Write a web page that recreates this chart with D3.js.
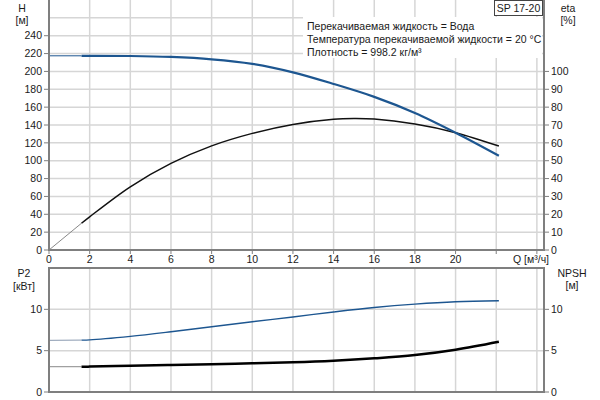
<!DOCTYPE html>
<html><head><meta charset="utf-8">
<script src="https://cdn.jsdelivr.net/npm/d3@7"></script>
<style>
body{margin:0;background:#fff;}
svg{display:block;font-family:"Liberation Sans",Arial,sans-serif;font-size:10.5px;}
</style></head>
<body><svg id="c" width="600" height="400"></svg>
<script>
// ---- data ----
const qH = [0, 1.6, 2, 4, 6, 8, 10, 12, 14, 16, 18, 20, 22.13];
const headH = [217.5, 217.5, 217.5, 217.3, 216.2, 213.6, 208.5, 199, 186, 171.5, 153.5, 131.4, 105.6];
const qEta = [0, 1.6, 2, 4, 6, 8, 10, 12, 14, 15, 16, 18, 20, 22.13];
const etaV = [0, 15, 18.6, 35.4, 48.5, 58.3, 65.3, 70.3, 73.2, 73.6, 73.3, 70.5, 65.7, 58.2];
const qP = [0, 1.6, 2, 4, 6, 8, 10, 12, 14, 16, 18, 20, 22.13];
const p2V = [6.25, 6.28, 6.3, 6.73, 7.29, 7.9, 8.5, 9.08, 9.68, 10.22, 10.63, 10.92, 11.04];
const npshV = [3.06, 3.06, 3.07, 3.18, 3.27, 3.37, 3.47, 3.59, 3.78, 4.07, 4.47, 5.12, 6.08];
const qTicks = [0, 2, 4, 6, 8, 10, 12, 14, 16, 18, 20];
const qGrid = [2, 4, 6, 8, 10, 12, 14, 16, 18, 20, 22, 24];
const hTicks = [0, 20, 40, 60, 80, 100, 120, 140, 160, 180, 200, 220, 240];
const hGrid = [20, 40, 60, 80, 100, 120, 140, 160, 180, 200, 220, 240, 260];
const etaTicks = [0, 10, 20, 30, 40, 50, 60, 70, 80, 90, 100];
const pTicks = [0, 5, 10];
const infoLines = ["Перекачиваемая жидкость = Вода", "Температура перекачиваемой жидкости = 20 °C", "Плотность = 998.2 кг/м³"];
const title = "SP 17-20";
const qStart = 1.6;

const svg = d3.select("#c");
const L = 49, R = 544;
const x = d3.scaleLinear().domain([0, 24.35]).range([L, R]);
const yH = d3.scaleLinear().domain([0, 280]).range([250, 0]);
const yE = d3.scaleLinear().domain([0, 140]).range([250, 0]);
const yP = d3.scaleLinear().domain([0, 15]).range([392, 268]);

const gridC = "#d6d6d6", axC = "#7f7f7f", txt = "#1a1a1a";
const blue = "#1d5690";

// grids
const g = svg.append("g");
g.selectAll(".vg1").data(qGrid).join("line")
  .attr("x1", d => x(d)).attr("x2", d => x(d)).attr("y1", 0).attr("y2", 250)
  .attr("stroke", gridC).attr("stroke-width", 1.5);
g.selectAll(".hg1").data(hGrid).join("line")
  .attr("x1", L).attr("x2", R).attr("y1", d => yH(d)).attr("y2", d => yH(d))
  .attr("stroke", gridC).attr("stroke-width", 1.5);
g.selectAll(".vg2").data(qGrid).join("line")
  .attr("x1", d => x(d)).attr("x2", d => x(d)).attr("y1", 268).attr("y2", 392)
  .attr("stroke", gridC).attr("stroke-width", 1.5);
g.selectAll(".hg2").data([5, 10]).join("line")
  .attr("x1", L).attr("x2", R).attr("y1", d => yP(d)).attr("y2", d => yP(d))
  .attr("stroke", gridC).attr("stroke-width", 1.5);

// info box
const info = svg.append("g");
info.append("rect").attr("x", 303).attr("y", 17).attr("width", 239).attr("height", 41).attr("fill", "#fff");
info.selectAll("text").data(infoLines).join("text")
  .attr("x", 307).attr("y", (d, i) => 29.5 + i * 13).attr("fill", txt).text(d => d);

// curves
function drawCurve(qs, vs, ys, thinColor, color, w) {
  const line = d3.line().x(d => x(d[0])).y(d => ys(d[1])).curve(d3.curveCatmullRom.alpha(0.5));
  const pts = qs.map((q, i) => [q, vs[i]]);
  const thin = pts.filter(p => p[0] <= qStart);
  const thick = pts.filter(p => p[0] >= qStart);
  svg.append("path").attr("d", line(thin)).attr("fill", "none").attr("stroke", thinColor).attr("stroke-width", 1);
  svg.append("path").attr("d", line(thick)).attr("fill", "none").attr("stroke", color).attr("stroke-width", w).attr("stroke-linecap", "butt");
}
drawCurve(qEta, etaV, yE, "#888", "#111", 1.5);
drawCurve(qH, headH, yH, blue, blue, 2.2);
drawCurve(qP, p2V, yP, "#8a9ab0", blue, 1.4);
drawCurve(qP, npshV, yP, "#888", "#000", 2.5);

// axes lines
const ax = svg.append("g").attr("stroke", axC).attr("stroke-width", 2).attr("fill", "none");
ax.append("line").attr("x1", L).attr("x2", L).attr("y1", 0).attr("y2", 251);
ax.append("line").attr("x1", R).attr("x2", R).attr("y1", 0).attr("y2", 251);
ax.append("line").attr("x1", L).attr("x2", R).attr("y1", 250).attr("y2", 250);
ax.append("rect").attr("x", L).attr("y", 268).attr("width", R - L).attr("height", 124);

// ticks
const tk = svg.append("g").attr("stroke", axC).attr("stroke-width", 1);
tk.selectAll(".tl").data(hTicks).join("line").attr("x1", L - 5).attr("x2", L).attr("y1", d => yH(d)).attr("y2", d => yH(d));
tk.selectAll(".tr").data(etaTicks).join("line").attr("x1", R).attr("x2", R + 5).attr("y1", d => yE(d)).attr("y2", d => yE(d));
tk.selectAll(".tb").data([0].concat(qGrid)).join("line").attr("x1", d => x(d)).attr("x2", d => x(d)).attr("y1", 250).attr("y2", 254);
tk.selectAll(".pl").data(pTicks).join("line").attr("x1", L - 5).attr("x2", L).attr("y1", d => yP(d)).attr("y2", d => yP(d));
tk.selectAll(".pr").data(pTicks).join("line").attr("x1", R).attr("x2", R + 5).attr("y1", d => yP(d)).attr("y2", d => yP(d));

const lab = svg.append("g").attr("fill", txt);
lab.selectAll(".hl").data(hTicks).join("text").attr("x", 42).attr("y", d => yH(d)).attr("dy", "0.35em").attr("text-anchor", "end").text(d => d);
lab.selectAll(".el").data(etaTicks).join("text").attr("x", 551).attr("y", d => yE(d)).attr("dy", "0.35em").text(d => d);
lab.selectAll(".ql").data(qTicks).join("text").attr("x", d => x(d)).attr("y", 263).attr("text-anchor", "middle").text(d => d);
lab.append("text").attr("x", 513).attr("y", 263).text("Q [м³/ч]");
lab.selectAll(".pl").data(pTicks).join("text").attr("x", 42).attr("y", d => yP(d)).attr("dy", "0.35em").attr("text-anchor", "end").text(d => d);
lab.selectAll(".pr").data(pTicks).join("text").attr("x", 551).attr("y", d => yP(d)).attr("dy", "0.35em").text(d => d);

lab.append("text").attr("x", 22).attr("y", 12).attr("text-anchor", "middle").text("H");
lab.append("text").attr("x", 22).attr("y", 24).attr("text-anchor", "middle").text("[м]");
lab.append("text").attr("x", 568).attr("y", 12).attr("text-anchor", "middle").text("eta");
lab.append("text").attr("x", 568).attr("y", 24).attr("text-anchor", "middle").text("[%]");
lab.append("text").attr("x", 24).attr("y", 277).attr("text-anchor", "middle").text("P2");
lab.append("text").attr("x", 24).attr("y", 290).attr("text-anchor", "middle").text("[кВт]");
lab.append("text").attr("x", 572).attr("y", 277).attr("text-anchor", "middle").text("NPSH");
lab.append("text").attr("x", 572).attr("y", 289).attr("text-anchor", "middle").text("[м]");

// title box
svg.append("rect").attr("x", 494.5).attr("y", 0.5).attr("width", 48).attr("height", 15).attr("fill", "#fff").attr("stroke", "#444").attr("stroke-width", 1);
svg.append("text").attr("x", 518.5).attr("y", 12).attr("text-anchor", "middle").attr("fill", txt).text(title);
</script></body></html>
